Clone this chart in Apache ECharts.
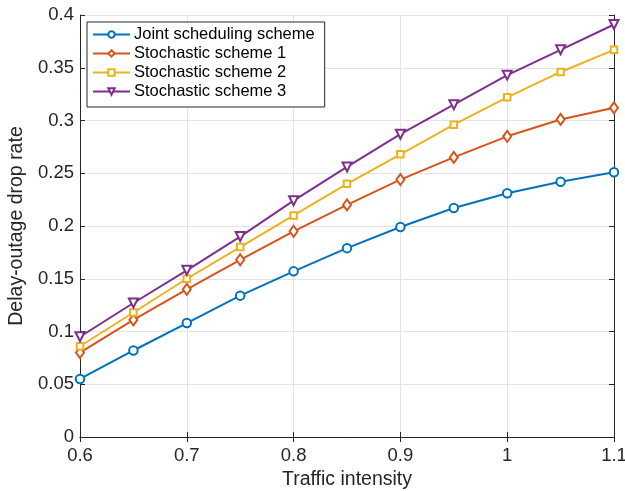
<!DOCTYPE html>
<html>
<head>
<meta charset="utf-8">
<script src="https://cdn.jsdelivr.net/npm/echarts@6/dist/echarts.min.js"></script>
<style>
  html, body { margin: 0; padding: 0; background: #fff; }
  #chart { width: 625px; height: 491px; }
</style>
</head>
<body>
<div id="chart"></div>
<script>
// Traffic intensity values on the horizontal axis
const intensity = [0.6, 0.65, 0.7, 0.75, 0.8, 0.85, 0.9, 0.95, 1.0, 1.05, 1.1];

// Delay-outage drop rate for each scheme
const jointScheduling = [0.055, 0.082, 0.108, 0.134, 0.157, 0.179, 0.199, 0.217, 0.231, 0.242, 0.251];
const stochastic1     = [0.080, 0.111, 0.140, 0.168, 0.195, 0.220, 0.244, 0.265, 0.285, 0.301, 0.312];
const stochastic2     = [0.086, 0.118, 0.150, 0.180, 0.210, 0.240, 0.268, 0.296, 0.322, 0.346, 0.367];
const stochastic3     = [0.095, 0.127, 0.158, 0.190, 0.224, 0.256, 0.287, 0.315, 0.343, 0.367, 0.391];

const seriesNames = ['Joint scheduling scheme', 'Stochastic scheme 1', 'Stochastic scheme 2', 'Stochastic scheme 3'];

const FONT = 'Liberation Sans, Arial, Helvetica, sans-serif';
const INK = '#262626';

function pairs(ys) {
  return intensity.map((x, i) => [x, ys[i]]);
}

function fmt(v) {
  return String(+v.toFixed(2));
}

function lineSeries(name, ys, color, symbol, size, rotate) {
  return {
    name: name,
    type: 'line',
    data: pairs(ys),
    symbol: symbol,
    symbolSize: size,
    symbolRotate: rotate || 0,
    showAllSymbol: true,
    lineStyle: { color: color, width: 2 },
    itemStyle: { color: color, borderColor: color, borderWidth: 1.6 },
    emphasis: { disabled: true },
    animation: false,
    z: 3
  };
}

const chart = echarts.init(document.getElementById('chart'), null, { renderer: 'canvas' });

const axisLine = { show: true, lineStyle: { color: INK, width: 1 } };
const tickIn = { show: true, inside: true, length: 5, lineStyle: { color: INK, width: 1 } };

chart.setOption({
  backgroundColor: '#ffffff',
  animation: false,
  grid: { left: 80, right: 11, top: 15, bottom: 54, containLabel: false, outerBoundsMode: 'none' },
  legend: {
    show: true,
    data: seriesNames,
    orient: 'vertical',
    left: 87,
    top: 22,
    itemWidth: 37,
    itemHeight: 8,
    itemGap: 2,
    padding: [4, 10, 7, 5],
    backgroundColor: '#ffffff',
    borderColor: INK,
    borderWidth: 1,
    borderRadius: 0,
    textStyle: { fontFamily: FONT, fontSize: 16.5, color: '#000', padding: [0, 0, 0, -1] }
  },
  xAxis: [
    {
      type: 'value', min: 0.6, max: 1.1, interval: 0.1,
      name: 'Traffic intensity', nameLocation: 'middle', nameGap: 33,
      nameTextStyle: { fontFamily: FONT, fontSize: 19.5, color: INK },
      axisLine: axisLine, axisTick: tickIn,
      axisLabel: { fontFamily: FONT, fontSize: 18.5, color: INK, margin: 9, formatter: fmt },
      splitLine: { show: true, lineStyle: { color: '#e3e3e3', width: 1 } }
    },
    {
      type: 'value', min: 0.6, max: 1.1, interval: 0.1, position: 'top',
      axisLine: axisLine, axisTick: tickIn,
      axisLabel: { show: false }, splitLine: { show: false }
    }
  ],
  yAxis: [
    {
      type: 'value', min: 0, max: 0.4, interval: 0.05,
      name: 'Delay-outage drop rate', nameLocation: 'middle', nameGap: 48, nameRotate: 90,
      nameTextStyle: { fontFamily: FONT, fontSize: 19.5, color: INK },
      axisLine: axisLine, axisTick: tickIn,
      axisLabel: { fontFamily: FONT, fontSize: 18.5, color: INK, margin: 6, formatter: fmt },
      splitLine: { show: true, lineStyle: { color: '#e3e3e3', width: 1 } }
    },
    {
      type: 'value', min: 0, max: 0.4, interval: 0.05, position: 'right',
      axisLine: axisLine, axisTick: tickIn,
      axisLabel: { show: false }, splitLine: { show: false }
    }
  ],
  series: [
    lineSeries(seriesNames[0], jointScheduling, '#0072BD', 'emptyCircle', 8.5),
    lineSeries(seriesNames[1], stochastic1, '#D95319', 'emptyDiamond', [8, 11]),
    lineSeries(seriesNames[2], stochastic2, '#EDB120', 'emptyRect', 6.5),
    lineSeries(seriesNames[3], stochastic3, '#7E2F8E', 'emptyTriangle', 9, 180)
  ]
});
</script>
</body>
</html>
